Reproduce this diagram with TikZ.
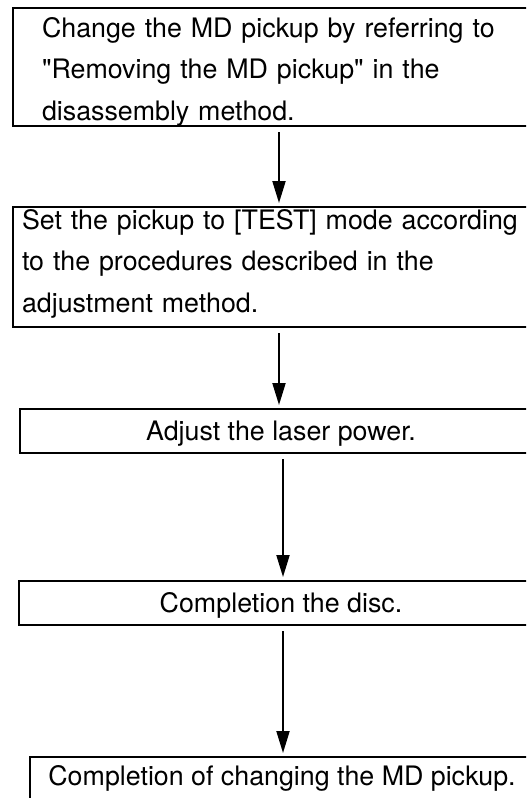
\documentclass[tikz,border=0pt]{standalone}
\usepackage{fontspec}
\setmainfont{TeX Gyre Heros}[Ligatures=TeXOff]
\usetikzlibrary{arrows.meta}
\begin{document}
\begin{tikzpicture}[x=0.5pt,y=-0.5pt,
  stepbox/.style={draw,line width=1pt,inner ysep=0pt,font={\fontsize{13.4pt}{20.75pt}\selectfont}},
  longbox/.style={stepbox,anchor=north west,align=left},
  shortbox/.style={stepbox,anchor=north west,minimum height=22pt,text height=9.6pt,text depth=0pt},
  flow/.style={-{Triangle[length=11pt,width=6.5pt]},line width=1pt,shorten <=2.5pt,shorten >=1.5pt}]
\clip (0,0) rectangle (526,798);
\coordinate (axisA) at (279,0);
\coordinate (axisB) at (283,0);
\node[longbox,inner xsep=14.5pt,text width=260pt,text height=14.5pt,text depth=44.5pt] (change) at (12,7)
  {Change the MD pickup by referring to\\"Removing the MD pickup" in the\\disassembly method.};
\node[longbox,inner xsep=4.5pt,text width=270pt,text height=11pt,text depth=49pt] (test) at (12,206)
  {Set the pickup to [TEST] mode according\\to the procedures described in the\\adjustment method.};
\node[shortbox,minimum width=261pt] (laser) at (19,408) {Adjust the laser power.};
\node[shortbox,minimum width=262pt] (disc) at (18,580) {Completion the disc.};
\node[shortbox,minimum width=252pt,minimum height=24pt,text depth=5.3pt] (done) at (29,756) {Completion of changing the MD pickup.};
\draw[flow] (change.south -| axisA) -- (test.north -| axisA);
\draw[flow] (test.south -| axisA) -- (laser.north -| axisA);
\draw[flow] (laser.south -| axisB) -- (disc.north -| axisB);
\draw[flow] (disc.south -| axisB) -- (done.north -| axisB);
\end{tikzpicture}
\end{document}
